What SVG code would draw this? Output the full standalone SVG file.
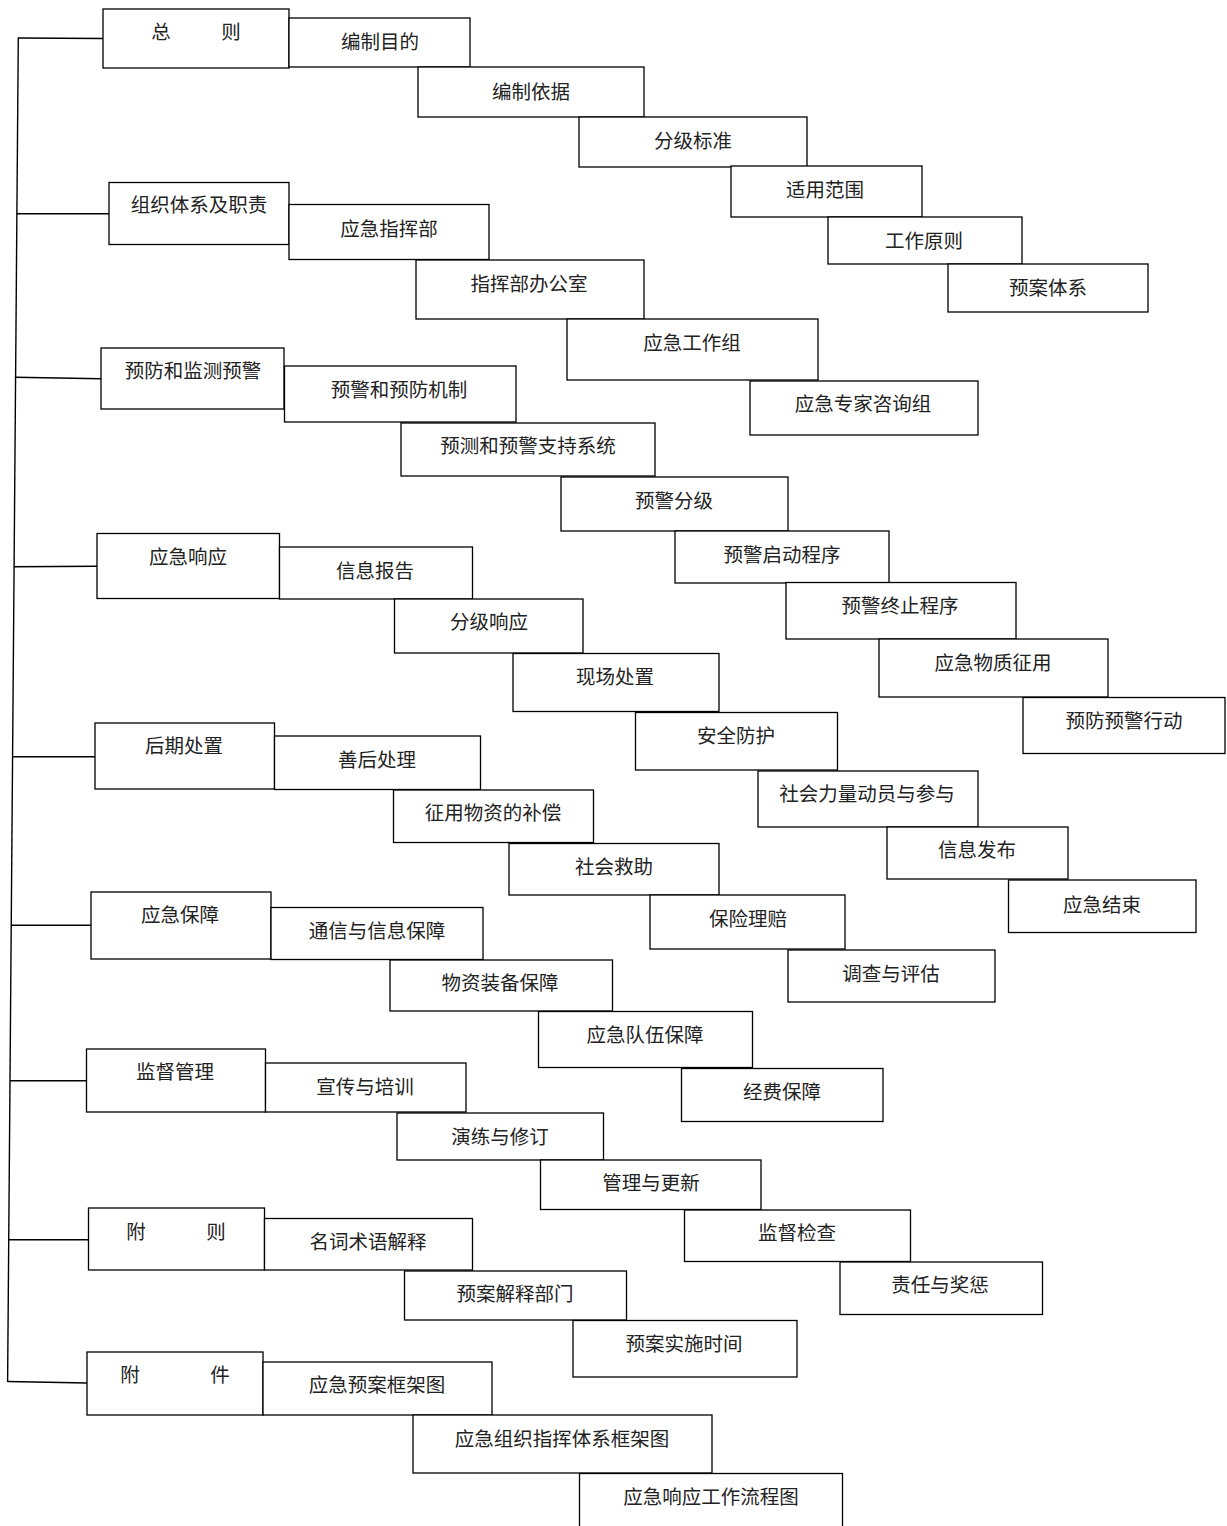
<svg xmlns="http://www.w3.org/2000/svg" width="1227" height="1526" viewBox="0 0 1227 1526">
<style>
rect{fill:#fff;stroke:#000;stroke-width:1.3}
text{font-family:"Noto Sans CJK SC","Noto Sans CJK TC",sans-serif;font-size:19.5px;fill:#222;text-anchor:middle}
.c{fill:none;stroke:#000;stroke-width:1.4}
</style>
<rect x="0" y="0" width="1227" height="1526" style="stroke:none"/>
<g id="connectors">
<line class="c" x1="18.3" y1="37.5" x2="7.6" y2="1382"/>
<line class="c" x1="18" y1="38" x2="103" y2="38.5"/>
<line class="c" x1="16.6" y1="213.7" x2="109" y2="213.7"/>
<line class="c" x1="15.4" y1="377.3" x2="101" y2="378.7"/>
<line class="c" x1="13.9" y1="566.7" x2="97" y2="566.3"/>
<line class="c" x1="12.4" y1="756.7" x2="95" y2="756.7"/>
<line class="c" x1="11.1" y1="925.3" x2="91" y2="925.3"/>
<line class="c" x1="9.9" y1="1080.7" x2="86" y2="1080.7"/>
<line class="c" x1="8.7" y1="1239.7" x2="88" y2="1239.7"/>
<line class="c" x1="7.6" y1="1381.5" x2="87" y2="1383"/>
</g>
<g id="n1"><rect x="103" y="9" width="186" height="59"/><text y="39"><tspan x="161">总</tspan><tspan x="231">则</tspan></text></g>
<g id="n1a"><rect x="289" y="18" width="181" height="49"/><text x="380" y="49">编制目的</text></g>
<g id="n1b"><rect x="418" y="67" width="226" height="50"/><text x="531" y="99">编制依据</text></g>
<g id="n1c"><rect x="579" y="117" width="228" height="50"/><text x="693" y="148">分级标准</text></g>
<g id="n1d"><rect x="731" y="166" width="191" height="51"/><text x="825" y="197">适用范围</text></g>
<g id="n1e"><rect x="828" y="217" width="194" height="47"/><text x="924" y="248">工作原则</text></g>
<g id="n1f"><rect x="948" y="264" width="200" height="48"/><text x="1048" y="295">预案体系</text></g>
<g id="n2"><rect x="109" y="182.5" width="180" height="62"/><text x="199" y="212">组织体系及职责</text></g>
<g id="n2a"><rect x="289" y="204.5" width="200" height="55"/><text x="389" y="236">应急指挥部</text></g>
<g id="n2b"><rect x="416" y="260" width="228" height="59"/><text x="529" y="291">指挥部办公室</text></g>
<g id="n2c"><rect x="567" y="319" width="251" height="61"/><text x="692" y="350">应急工作组</text></g>
<g id="n2d"><rect x="750" y="381" width="228" height="54"/><text x="863" y="411">应急专家咨询组</text></g>
<g id="n3"><rect x="101" y="348" width="183" height="61"/><text x="193" y="378">预防和监测预警</text></g>
<g id="n3a"><rect x="284.5" y="366" width="231.5" height="56"/><text x="399" y="397">预警和预防机制</text></g>
<g id="n3b"><rect x="401" y="423" width="254" height="53"/><text x="528" y="453">预测和预警支持系统</text></g>
<g id="n3c"><rect x="561" y="477" width="227" height="54"/><text x="674" y="508">预警分级</text></g>
<g id="n3d"><rect x="675" y="531" width="214" height="52"/><text x="782" y="562">预警启动程序</text></g>
<g id="n3e"><rect x="786" y="582.5" width="230" height="56.5"/><text x="900" y="613">预警终止程序</text></g>
<g id="n3f"><rect x="879" y="639" width="229" height="58"/><text x="993" y="670">应急物质征用</text></g>
<g id="n3g"><rect x="1023" y="697.5" width="202" height="56"/><text x="1124" y="728">预防预警行动</text></g>
<g id="n4"><rect x="97" y="533.5" width="182.5" height="65"/><text x="188" y="564">应急响应</text></g>
<g id="n4a"><rect x="279.5" y="547" width="193" height="52"/><text x="375" y="578">信息报告</text></g>
<g id="n4b"><rect x="394.5" y="599" width="188.5" height="54"/><text x="489" y="629">分级响应</text></g>
<g id="n4c"><rect x="513" y="653.5" width="206" height="58"/><text x="615" y="684">现场处置</text></g>
<g id="n4d"><rect x="635.5" y="712.5" width="202" height="57.5"/><text x="736" y="743">安全防护</text></g>
<g id="n4e"><rect x="758" y="771" width="220" height="56"/><text x="867" y="801">社会力量动员与参与</text></g>
<g id="n4f"><rect x="887" y="827" width="181" height="52"/><text x="977" y="857">信息发布</text></g>
<g id="n4g"><rect x="1008.5" y="880" width="187.5" height="52.5"/><text x="1102" y="912">应急结束</text></g>
<g id="n5"><rect x="95" y="723" width="179.5" height="66"/><text x="184" y="753">后期处置</text></g>
<g id="n5a"><rect x="274.5" y="736" width="206" height="53.5"/><text x="377" y="767">善后处理</text></g>
<g id="n5b"><rect x="393.5" y="790" width="200" height="52.5"/><text x="493" y="820">征用物资的补偿</text></g>
<g id="n5c"><rect x="509" y="843.5" width="210" height="51.5"/><text x="614" y="874">社会救助</text></g>
<g id="n5d"><rect x="650" y="895" width="195" height="54"/><text x="748" y="926">保险理赔</text></g>
<g id="n5e"><rect x="788" y="950" width="207" height="52"/><text x="891" y="981">调查与评估</text></g>
<g id="n6"><rect x="91" y="892" width="180" height="67"/><text x="180" y="922">应急保障</text></g>
<g id="n6a"><rect x="271" y="907.5" width="212" height="52"/><text x="377" y="938">通信与信息保障</text></g>
<g id="n6b"><rect x="390" y="960" width="222.5" height="51"/><text x="500" y="990">物资装备保障</text></g>
<g id="n6c"><rect x="538.5" y="1011.5" width="214" height="56"/><text x="645" y="1042">应急队伍保障</text></g>
<g id="n6d"><rect x="681.5" y="1068.5" width="201.5" height="53"/><text x="782" y="1099">经费保障</text></g>
<g id="n7"><rect x="86.5" y="1049" width="179" height="63"/><text x="175" y="1079">监督管理</text></g>
<g id="n7a"><rect x="265.5" y="1063" width="200.5" height="49"/><text x="365" y="1094">宣传与培训</text></g>
<g id="n7b"><rect x="397" y="1113" width="206.5" height="47"/><text x="500" y="1144">演练与修订</text></g>
<g id="n7c"><rect x="540.5" y="1160" width="220.5" height="49.5"/><text x="651" y="1190">管理与更新</text></g>
<g id="n7d"><rect x="684.5" y="1210" width="226" height="51.5"/><text x="797" y="1240">监督检查</text></g>
<g id="n7e"><rect x="840" y="1262" width="202.5" height="52.5"/><text x="940" y="1292">责任与奖惩</text></g>
<g id="n8"><rect x="88.5" y="1208" width="176" height="62"/><text y="1239"><tspan x="136">附</tspan><tspan x="216">则</tspan></text></g>
<g id="n8a"><rect x="264.5" y="1218.5" width="208" height="51.5"/><text x="368" y="1249">名词术语解释</text></g>
<g id="n8b"><rect x="404.5" y="1271" width="222" height="49"/><text x="515" y="1301">预案解释部门</text></g>
<g id="n8c"><rect x="573" y="1320.5" width="224" height="56.5"/><text x="684" y="1351">预案实施时间</text></g>
<g id="n9"><rect x="87" y="1352" width="176" height="63"/><text y="1382"><tspan x="130">附</tspan><tspan x="220">件</tspan></text></g>
<g id="n9a"><rect x="263" y="1362" width="229" height="53"/><text x="377" y="1392">应急预案框架图</text></g>
<g id="n9b"><rect x="413" y="1415" width="299" height="58"/><text x="562" y="1446">应急组织指挥体系框架图</text></g>
<g id="n9c"><rect x="579.5" y="1473.5" width="263" height="60"/><text x="711" y="1504">应急响应工作流程图</text></g>
</svg>
